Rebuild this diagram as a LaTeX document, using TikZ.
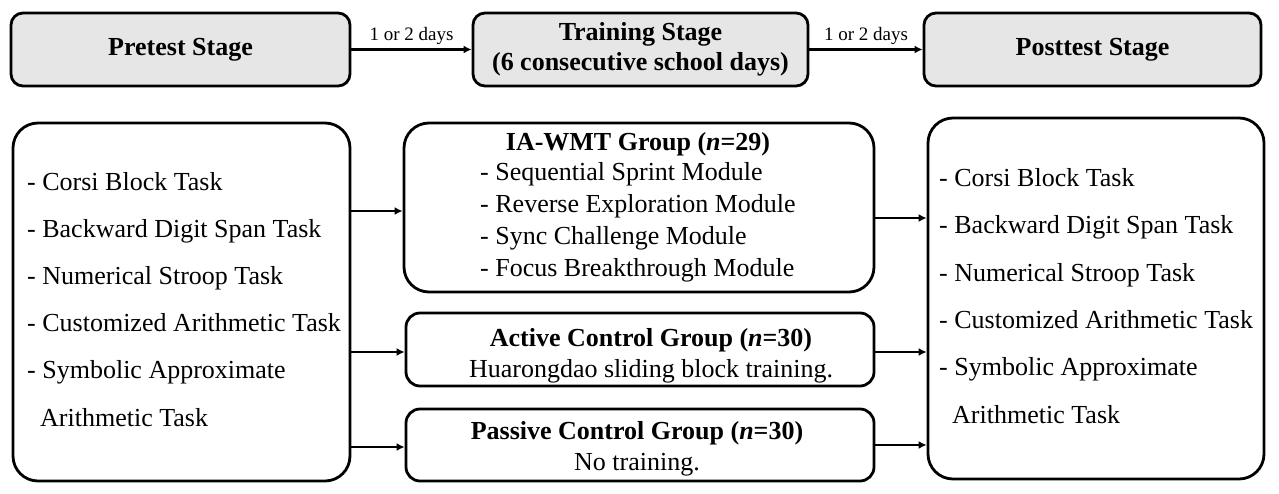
\documentclass[tikz,border=0pt]{standalone}
\usepackage{fontspec}
\setmainfont{Liberation Serif}
\usetikzlibrary{arrows.meta}
\definecolor{stagegray}{HTML}{E6E6E6}
\begin{document}
\begin{tikzpicture}[x=1pt,y=-1pt,
  stagebox/.style={draw=black, line width=2.8pt, fill=stagegray, rounded corners=12pt, inner sep=0pt,
    minimum height=73pt, align=center, font=\fontsize{26}{30}\selectfont\bfseries},
  bigbox/.style={draw=black, line width=2.8pt, rounded corners=25pt, inner sep=0pt},
  grpbox/.style={draw=black, line width=2.8pt, rounded corners=14pt, inner sep=0pt},
  arr/.style={line width=2.4pt, -{Latex[length=8pt,width=8pt]}},
  daylabel/.style={font=\fontsize{19}{22}\selectfont, inner sep=3pt},
  itemtext/.style={inner sep=0pt, anchor=base west, font=\fontsize{26}{31}\selectfont},
  grptitle/.style={inner sep=0pt, anchor=base, font=\fontsize{26}{31}\selectfont\bfseries},
  grptext/.style={inner sep=0pt, anchor=base, font=\fontsize{26}{31}\selectfont}
]
\fill[white] (0,0) rectangle (1279,493);
\useasboundingbox (0,0) rectangle (1279,493);

% top stages
\node[stagebox, minimum width=339pt] (pre) at (180.5,49.5) {Pretest Stage};
\node[stagebox, minimum width=335pt] (train) at (640.5,49.5) {Training Stage\\(6 consecutive school days)};
\node[stagebox, minimum width=337pt] (post) at (1092.5,49.5) {Posttest Stage};

\draw[arr] (pre) -- node[daylabel, midway, above=1pt] (d1) {1 or 2 days} (train);
\draw[arr] (train) -- node[daylabel, midway, above=1pt] (d2) {1 or 2 days} (post);

% left box
\node[bigbox, minimum width=337pt, minimum height=358pt] (left) at (181.5,302) {};
\node[itemtext] (l1) at (27,190) {- Corsi Block Task};
\node[itemtext] (l2) at (27,237.2) {- Backward Digit Span Task};
\node[itemtext] (l3) at (27,284.4) {- Numerical Stroop Task};
\node[itemtext] (l4) at (27,331.6) {- Customized Arithmetic Task};
\node[itemtext] (l5) at (27,378.8) {- Symbolic Approximate};
\node[itemtext] (l6) at (40,426) {Arithmetic Task};

% groups
\node[bigbox, minimum width=470pt, minimum height=169pt] (ia) at (639,207.5) {};
\node[grptitle] (iat) at (638,150) {IA-WMT Group (\textit{n}=29)};
\node[itemtext] (ia1) at (480,180.5) {- Sequential Sprint Module};
\node[itemtext] (ia2) at (480,212.5) {- Reverse Exploration Module};
\node[itemtext] (ia3) at (480,244.5) {- Sync Challenge Module};
\node[itemtext] (ia4) at (480,276) {- Focus Breakthrough Module};

\node[grpbox, minimum width=468pt, minimum height=73pt] (act) at (640,349.5) {};
\node[grptitle] (actt) at (651,346.5) {Active Control Group (\textit{n}=30)};
\node[grptext] (act1) at (651,377.5) {Huarongdao sliding block training.};

\node[grpbox, minimum width=468pt, minimum height=72pt] (pas) at (640,445) {};
\node[grptitle] (past) at (637,439.5) {Passive Control Group (\textit{n}=30)};
\node[grptext] (pas1) at (637,470.5) {No training.};

% right box
\node[bigbox, minimum width=336pt, minimum height=361pt] (right) at (1096,298.5) {};
\node[itemtext] (r1) at (939,186.6) {- Corsi Block Task};
\node[itemtext] (r2) at (939,233.9) {- Backward Digit Span Task};
\node[itemtext] (r3) at (939,281.2) {- Numerical Stroop Task};
\node[itemtext] (r4) at (939,328.5) {- Customized Arithmetic Task};
\node[itemtext] (r5) at (939,375.8) {- Symbolic Approximate};
\node[itemtext] (r6) at (952,423.1) {Arithmetic Task};

% connector heights
\coordinate (ya) at (0,211);
\coordinate (yb) at (0,352);
\coordinate (yc) at (0,447);
\coordinate (za) at (0,218);
\coordinate (zb) at (0,352);
\coordinate (zc) at (0,445);

\draw[arr] (left.east |- ya) -- (ia.west |- ya);
\draw[arr] (left.east |- yb) -- (act.west |- yb);
\draw[arr] (left.east |- yc) -- (pas.west |- yc);
\draw[arr] (ia.east |- za) -- (right.west |- za);
\draw[arr] (act.east |- zb) -- (right.west |- zb);
\draw[arr] (pas.east |- zc) -- (right.west |- zc);
\end{tikzpicture}
\end{document}
